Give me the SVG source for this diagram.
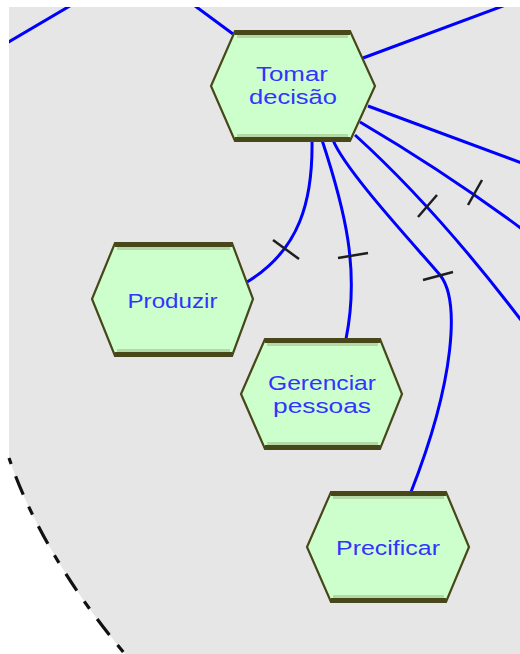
<svg xmlns="http://www.w3.org/2000/svg" width="520" height="654" viewBox="0 0 520 654">
  <style>
    .hex { fill: #ccffcc; stroke: #474719; stroke-width: 2.2; stroke-linejoin: miter; }
    .band-dark { stroke: #474719; stroke-width: 4; fill: none; }
    .band-light { stroke: #b2d9a6; stroke-width: 3; fill: none; }
    .label { font-family: "Liberation Sans", Arial, sans-serif; font-size: 20.5px; fill: #3333ff; text-anchor: middle; }
    .conn { fill: none; stroke: #0000ff; stroke-width: 3; }
    .tick { stroke: #1e1e1e; stroke-width: 2.5; stroke-linecap: butt; }
  </style>
  <defs>
    <clipPath id="canvas-clip">
      <rect x="9" y="7" width="511" height="647"/>
    </clipPath>
  </defs>

  <!-- page background and swimlane area -->
  <rect x="0" y="0" width="520" height="654" fill="#ffffff"/>
  <path d="M9,7 H520 V660 H130 C70,590 30,520 9,458 Z" fill="#e6e6e6"/>
  <path d="M9,458 C30,520 70,590 130,660" fill="none" stroke="#111111" stroke-width="3.2" stroke-dasharray="20 13 9 13" stroke-dashoffset="35.5"/>

  <!-- connectors -->
  <g id="connectors" clip-path="url(#canvas-clip)">
    <path class="conn" d="M0,47 L80,0"/>
    <path class="conn" d="M187,0 L233,34"/>
    <path class="conn" d="M363,58 L519,0"/>
    <path class="conn" d="M368,106 L530,166"/>
    <path class="conn" d="M360,122 Q450,175 530,235"/>
    <path class="conn" d="M355,135 Q440,212 530,332"/>
    <path class="conn" d="M333,140 C345,170 410,240 440,275 C460,300 455,380 411,492"/>
    <path class="conn" d="M322,140 C345,210 360,270 346,339"/>
    <path class="conn" d="M312,140 C313,200 300,250 247,282"/>
    <!-- cardinality ticks -->
    <line class="tick" x1="273" y1="240" x2="299" y2="259"/>
    <line class="tick" x1="338" y1="258" x2="368" y2="253"/>
    <line class="tick" x1="423" y1="280" x2="453" y2="272"/>
    <line class="tick" x1="418" y1="217" x2="437" y2="195"/>
    <line class="tick" x1="468" y1="205" x2="482" y2="180"/>
  </g>

  <!-- nodes -->
  <g id="tomar-decisao">
    <polygon class="hex" points="235,31 350,31 375,86 350,141 235,141 211,86"/>
    <path class="band-dark" d="M235,33 H350 M235,139 H350"/>
    <path class="band-light" d="M237,36.5 H348 M237,135.5 H348"/>
    <text class="label" x="292" y="81" textLength="72" lengthAdjust="spacingAndGlyphs">Tomar</text>
    <text class="label" x="293" y="104" textLength="88" lengthAdjust="spacingAndGlyphs">decisão</text>
  </g>

  <g id="produzir">
    <polygon class="hex" points="115,243 232,243 253,299 232,356 115,356 92,299"/>
    <path class="band-dark" d="M115,245 H232 M115,354 H232"/>
    <path class="band-light" d="M117,248.5 H230 M117,350.5 H230"/>
    <text class="label" x="172.5" y="308" textLength="90" lengthAdjust="spacingAndGlyphs">Produzir</text>
  </g>

  <g id="gerenciar-pessoas">
    <polygon class="hex" points="265,339 380,339 402,394 380,449 265,449 241,394"/>
    <path class="band-dark" d="M265,341 H380 M265,447 H380"/>
    <path class="band-light" d="M267,344.5 H378 M267,443.5 H378"/>
    <text class="label" x="322" y="390" textLength="108" lengthAdjust="spacingAndGlyphs">Gerenciar</text>
    <text class="label" x="322" y="413" textLength="98" lengthAdjust="spacingAndGlyphs">pessoas</text>
  </g>

  <g id="precificar">
    <polygon class="hex" points="331,492 446,492 469,547 446,602 331,602 307,547"/>
    <path class="band-dark" d="M331,494 H446 M331,600 H446"/>
    <path class="band-light" d="M333,497.5 H444 M333,596.5 H444"/>
    <text class="label" x="388" y="555" textLength="104" lengthAdjust="spacingAndGlyphs">Precificar</text>
  </g>
</svg>
